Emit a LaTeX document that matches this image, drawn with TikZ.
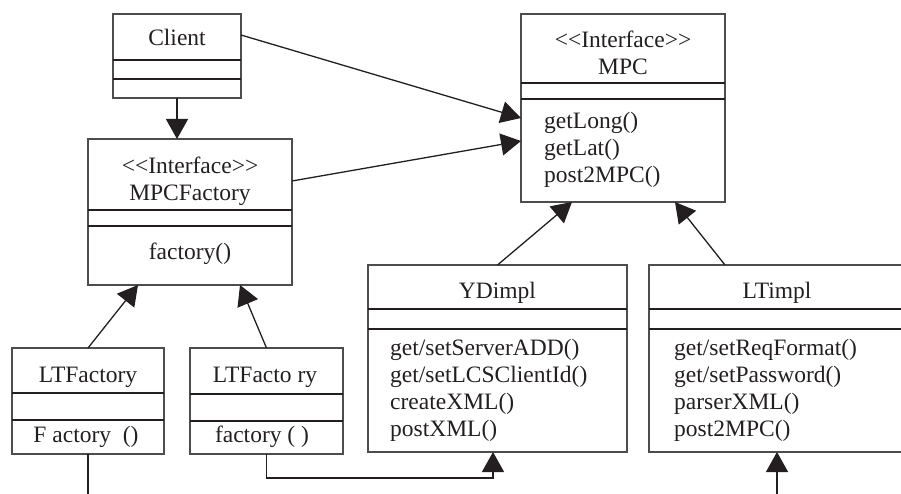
\documentclass[tikz,border=0pt]{standalone}
\usepackage{fontspec}
\setmainfont{Liberation Serif}
\usetikzlibrary{arrows.meta,calc}

\definecolor{boxgray}{HTML}{4D4D4D}
\definecolor{linedark}{HTML}{231F20}
\newcommand\stereo[1]{<\kern0pt<#1>\kern0pt>}

\tikzset{
  classbox/.style={draw=boxgray, line width=1.2pt, inner sep=0pt, outer sep=0pt},
  divider/.style={draw=linedark, line width=2pt},
  link/.style={draw=linedark, line width=1.3pt},
  conn/.style={link, -{Triangle[length=20pt,width=22pt]}},
  members/.style={align=left, anchor=west, inner sep=0pt},
}

\begin{document}
\begin{tikzpicture}[x=1pt, y=-1pt, font=\fontsize{23.5}{27}\selectfont, text=linedark]
\useasboundingbox (0,0) rectangle (901,494);
\clip (0,0) rectangle (901,494);

% class boxes
\node[classbox, minimum width=128pt, minimum height=84pt]  (client) at (177,56) {};
\node[classbox, minimum width=204pt, minimum height=146pt] (mpcfac) at (190,212) {};
\node[classbox, minimum width=204pt, minimum height=188pt] (mpc)    at (623,108) {};
\node[classbox, minimum width=259pt, minimum height=187pt] (ydimpl) at (497.5,358.5) {};
\node[classbox, minimum width=256pt, minimum height=187pt] (ltimpl) at (777,358.5) {};
\node[classbox, minimum width=152pt, minimum height=106pt] (ltfacA) at (88,401) {};
\node[classbox, minimum width=153pt, minimum height=106pt] (ltfacB) at (266.5,401) {};

% compartment lines (offsets from the top edge)
\foreach \n/\a/\b in {client/46/65, mpcfac/71/87, mpc/69/85, ydimpl/44/64,
                      ltimpl/44/64, ltfacA/45/72, ltfacB/46/73} {
  \draw[divider] ($(\n.north west)+(0,\a)$) -- ($(\n.north east)+(0,\a)$);
  \draw[divider] ($(\n.north west)+(0,\b)$) -- ($(\n.north east)+(0,\b)$);
}

% names and operations
\node (client-name) at (177,37) {Client};
\node[align=center] (mpcfac-name) at (190,181) {\stereo{Interface}\\MPCFactory};
\node (mpcfac-ops) at (190,254) {factory()};
\node[align=center] (mpc-name) at (623,52.5) {\stereo{Interface}\\MPC};
\node[members] (mpc-ops) at (544,149.5) {getLong()\\getLat()\\post2MPC()};
\node (ydimpl-name) at (497.5,293) {YDimpl};
\node[members] (ydimpl-ops) at (390,390)
  {get/setServerADD()\\get/setLCSClientId()\\createXML()\\postXML()};
\node (ltimpl-name) at (777,293) {LTimpl};
\node[members] (ltimpl-ops) at (674,390)
  {get/setReqFormat()\\get/setPassword()\\parserXML()\\post2MPC()};
\node (ltfacA-name) at (88,377) {LTFactory};
\node (ltfacA-ops) at (86,437) {F actory\ \ ()};
\node (ltfacB-name) at (265,377) {LTFacto ry};
\node (ltfacB-ops) at (262,437) {factory ( )};

% associations
\draw[conn] (client.south) -- (client.south |- mpcfac.north);
\draw[conn] ($(client.north east)+(0,21)$) -- ($(mpc.north west)+(0,104)$);
\draw[conn] ($(mpcfac.north east)+(0,42)$) -- ($(mpc.north west)+(0,127)$);

% realisations
\draw[conn] (ydimpl.north) -- ($(mpc.south west)+(51,0)$);
\draw[conn] ($(ltimpl.north west)+(76,0)$) -- ($(mpc.south east)+(-50,0)$);
\draw[conn] (ltfacA.north) -- ($(mpcfac.south west)+(50,0)$);
\draw[conn] (ltfacB.north) -- ($(mpcfac.south east)+(-52,0)$);

% creation links
\draw[conn] (ltfacB.south) -- ++(0,24) -| ($(ydimpl.south west)+(125,0)$);
\coordinate (ltfacA-out) at (88,494);
\draw[link] (ltfacA.south) -- (ltfacA-out);
\coordinate (ltimpl-in) at (777,494);
\draw[conn] (ltimpl-in) -- (ltimpl.south);
\end{tikzpicture}
\end{document}
